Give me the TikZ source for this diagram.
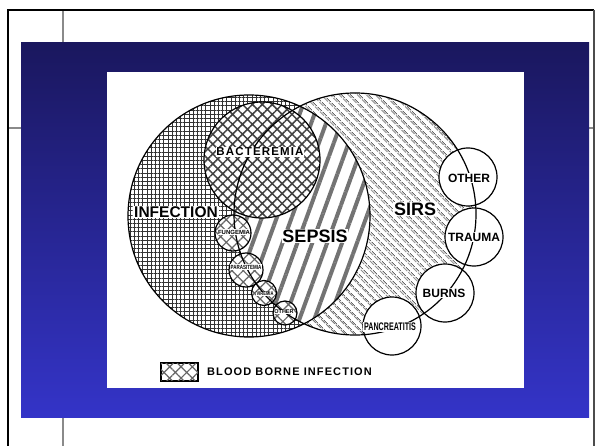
\documentclass[tikz,border=0pt]{standalone}
\usepackage{fontspec}
\setmainfont{Liberation Sans}
\newfontfamily\spacedfont[LetterSpace=10]{Liberation Sans}
\usetikzlibrary{patterns.meta}
\definecolor{slideNavy}{HTML}{1A175E}
\definecolor{slideMid}{HTML}{24218E}
\definecolor{slideBlue}{HTML}{3434C8}
\definecolor{frameGray}{HTML}{8A8A8A}

\begin{document}
\begin{tikzpicture}[
  x=1pt, y=-1pt,
  outline/.style={draw=black, line width=1.2pt},
  lbl/.style={fill=white, inner sep=0.8pt, font=\bfseries\fontsize{12}{12}\selectfont},
  biglbl/.style={lbl, font=\bfseries\fontsize{18}{18}\selectfont},
  tinylbl/.style={lbl, inner sep=0.4pt, font=\bfseries\fontsize{6}{6}\selectfont},
  gridfill/.style={pattern={Hatch[angle=0, distance=4.2pt, line width=0.75pt]}, pattern color=black!80},
  bactfill/.style={pattern={Hatch[angle=45, distance=7pt, line width=1.5pt]}, pattern color=black!75},
  bloodfill/.style={pattern={Hatch[angle=45, distance=8pt, line width=1.2pt]}, pattern color=black!60},
  stripefill/.style={pattern={Lines[angle=70, distance=14pt, line width=4pt]}, pattern color=black!55},
  sirsfill/.style={pattern={Lines[angle=-45, distance=6.5pt, line width=0.85pt]}, pattern color=black!60},
  sirsfilltwo/.style={pattern={Lines[angle=-45, distance=6.5pt, xshift=2.6pt, line width=0.85pt]}, pattern color=black!60},
]
\useasboundingbox (0,0) rectangle (596,446);
\fill[white] (0,0) rectangle (596,446);

% slide frame
\draw[frameGray, line width=1.5pt] (63,10) -- (63,43) (63,417) -- (63,446)
  (8,128) -- (21,128) (589,128) -- (594,128);
\draw[line width=2pt] (8,447) -- (8,10) -- (594,10);
\draw[black!70, line width=1.2pt] (594,10) -- (594,447);
\shade[top color=slideNavy, middle color=slideMid, bottom color=slideBlue] (21,43) rectangle (589,417);
\fill[white] (107,72) rectangle (524,388);

\coordinate (infC) at (249,216);
\coordinate (sirsC) at (355,214);
\coordinate (bactC) at (262,160);

% SIRS, infection and sepsis areas
\path[sirsfill] (sirsC) circle[radius=121pt];
\path[sirsfilltwo] (sirsC) circle[radius=121pt];
\fill[white] (infC) circle[radius=121pt];
\path[gridfill] (infC) circle[radius=121pt];
\begin{scope}
  \clip (sirsC) circle[radius=121pt];
  \fill[white] (infC) circle[radius=121pt];
  \path[stripefill] (infC) circle[radius=121pt];
\end{scope}

% blood borne infection
\fill[white] (bactC) circle[radius=58pt];
\path[bactfill] (bactC) circle[radius=58pt];
\foreach \cx/\cy/\r in {233/233/18, 246/270/17, 264/293/12.5, 285/313/12} {
  \fill[white] (\cx,\cy) circle[radius=\r pt];
  \path[bloodfill] (\cx,\cy) circle[radius=\r pt];
}
\draw[outline] (infC) circle[radius=121pt];
\draw[outline] (bactC) circle[radius=58pt];
\foreach \cx/\cy/\r in {233/233/18, 246/270/17, 264/293/12.5, 285/313/12}
  \draw[outline] (\cx,\cy) circle[radius=\r pt];

% other causes of SIRS
\foreach \cx/\cy in {468/177, 474/237, 445/293, 392/326}
  \fill[white] (\cx,\cy) circle[radius=29pt];
\foreach \cx/\cy in {468/177, 474/237, 445/293, 392/326}
  \draw[outline] (\cx,\cy) circle[radius=29pt];
\draw[outline] (sirsC) circle[radius=121pt];

% labels
\node[biglbl, font=\bfseries\fontsize{15.5}{15.5}\selectfont] (infLbl) at (176,212) {INFECTION};
\node[lbl, font=\spacedfont\bfseries\fontsize{11.5}{11.5}\selectfont] (bactLbl) at (260,152) {BACTEREMIA};
\node[biglbl] (sepsisLbl) at (315,236) {SEPSIS};
\node[biglbl] (sirsLbl) at (415,209) {SIRS};
\node[lbl] (otherLbl) at (469,178) {OTHER};
\node[lbl] (traumaLbl) at (474,237) {TRAUMA};
\node[lbl] (burnsLbl) at (444,293) {BURNS};
\node[lbl, font=\bfseries\fontsize{11}{11}\selectfont] (pancLbl) at (390,327) {\scalebox{0.65}[1]{PANCREATITIS}};
\node[tinylbl] (fungLbl) at (234,232) {FUNGEMIA};
\node[tinylbl] (paraLbl) at (246,267) {\scalebox{0.75}[1]{PARASITEMIA}};
\node[tinylbl, font=\bfseries\fontsize{5.5}{5.5}\selectfont] (virLbl) at (265,294) {\scalebox{0.74}[1]{VIREMIA}};
\node[tinylbl, font=\bfseries\fontsize{5.5}{5.5}\selectfont] (smallOtherLbl) at (284,312) {OTHER};

% legend
\node[draw, line width=1.2pt, fill=white, minimum width=37pt, minimum height=18pt, inner sep=0pt] (legendBox) at (179.5,372) {};
\path[bloodfill] (legendBox.south west) rectangle (legendBox.north east);
\draw[line width=1.2pt] (legendBox.south west) rectangle (legendBox.north east);
\node[anchor=west, inner sep=0pt, font=\spacedfont\bfseries\fontsize{11}{11}\selectfont] (legendLbl) at (207,372) {BLOOD BORNE INFECTION};
\end{tikzpicture}
\end{document}
